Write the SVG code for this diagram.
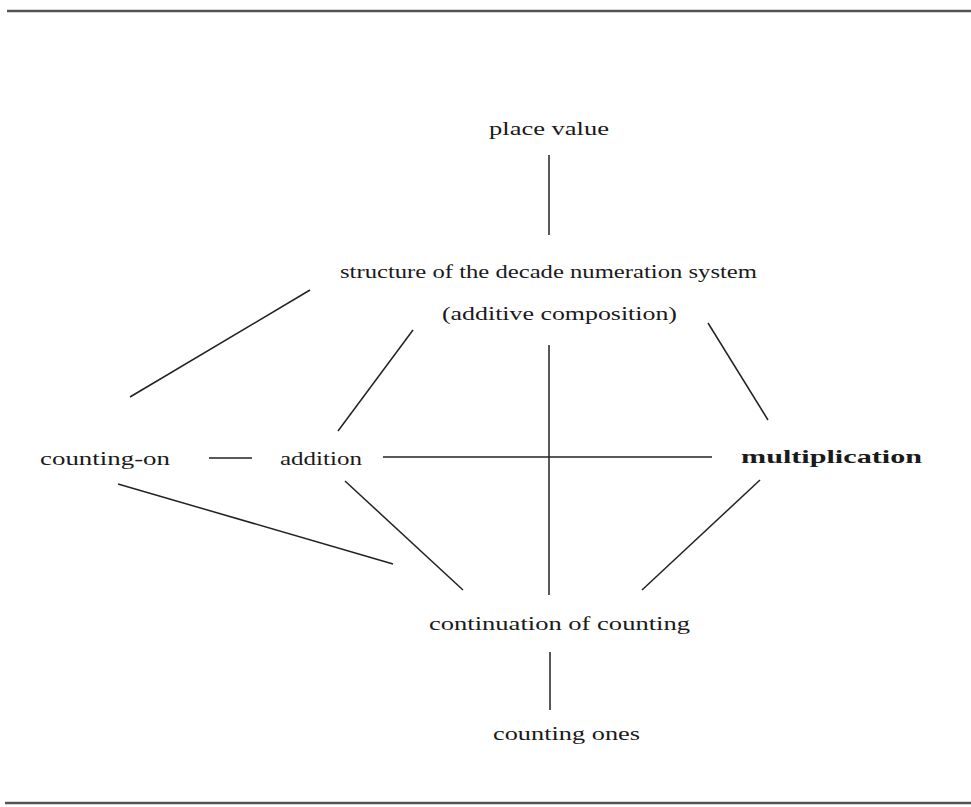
<svg xmlns="http://www.w3.org/2000/svg" width="971" height="807" viewBox="0 0 971 807">
<style>
.t{font-family:"Liberation Serif","DejaVu Serif",serif;font-size:19px;fill:#1a1a1a;}
.b{font-weight:bold;}
.c line{stroke:#222;stroke-width:1.5;}
.rule{stroke:#555;stroke-width:2.5;}
</style>
<rect width="971" height="807" fill="#fff"/>
<line class="rule" x1="7" y1="11" x2="971" y2="11"/>
<line class="rule" x1="5" y1="803" x2="971" y2="803"/>
<g class="c" id="connectors">
<line x1="549" y1="155" x2="549" y2="235"/>
<line x1="310" y1="290" x2="130" y2="397"/>
<line x1="413" y1="330" x2="338" y2="431"/>
<line x1="708" y1="323" x2="768" y2="420"/>
<line x1="549" y1="345" x2="549" y2="595"/>
<line x1="383" y1="457" x2="712" y2="457"/>
<line x1="209" y1="458" x2="252" y2="458"/>
<line x1="118" y1="484" x2="393" y2="564"/>
<line x1="345" y1="481" x2="463" y2="590"/>
<line x1="760" y1="480" x2="642" y2="590"/>
<line x1="550" y1="652" x2="550" y2="710"/>
</g>
<g id="place-value"><text class="t" x="489" y="135" textLength="120" lengthAdjust="spacingAndGlyphs">place value</text></g>
<g id="structure"><text class="t" x="340" y="278" textLength="417" lengthAdjust="spacingAndGlyphs">structure of the decade numeration system</text>
<text class="t" x="442" y="320" textLength="235" lengthAdjust="spacingAndGlyphs">(additive composition)</text></g>
<g id="counting-on"><text class="t" x="40" y="465" textLength="130" lengthAdjust="spacingAndGlyphs">counting-on</text></g>
<g id="addition"><text class="t" x="280" y="465" textLength="82" lengthAdjust="spacingAndGlyphs">addition</text></g>
<g id="multiplication"><text class="t b" x="741" y="463" textLength="181" lengthAdjust="spacingAndGlyphs">multiplication</text></g>
<g id="continuation"><text class="t" x="429" y="630" textLength="261" lengthAdjust="spacingAndGlyphs">continuation of counting</text></g>
<g id="counting-ones"><text class="t" x="493" y="740" textLength="147" lengthAdjust="spacingAndGlyphs">counting ones</text></g>
</svg>
